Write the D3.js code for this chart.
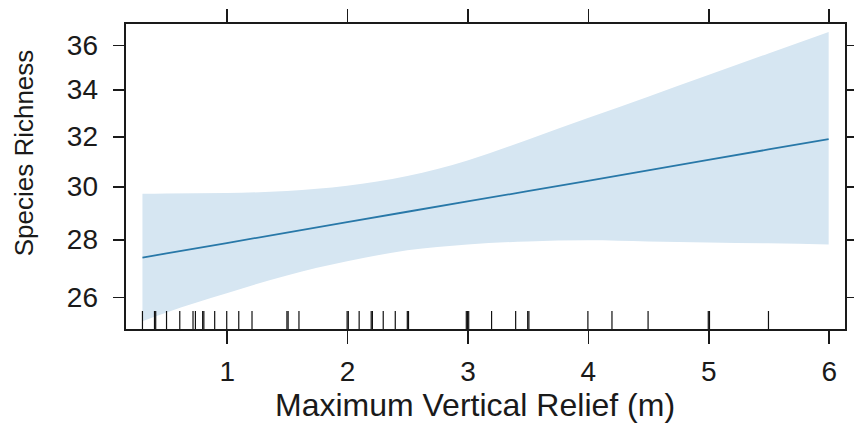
<!DOCTYPE html>
<meta charset="utf-8">
<style>
body { margin: 0; background: #fff; }
text { font-family: "Liberation Sans", Arial, sans-serif; fill: #1a1a1a; }
.axis path { display: none; }
.axis line { stroke: #1a1a1a; stroke-width: 1.5; shape-rendering: crispEdges; }
</style>
<body>
<script src="https://cdn.jsdelivr.net/npm/d3@7"></script>
<script>

// effect of relief on richness
var relief = [0.3, 0.5, 1.0, 1.5, 2.0, 2.5, 3.0, 3.5, 4.0, 4.5, 5.0, 5.5, 6.0];
var fit    = [27.36, 27.51, 27.88, 28.26, 28.64, 29.03, 29.42, 29.81, 30.21, 30.62, 31.04, 31.46, 31.88];
var upper  = [29.71, 29.72, 29.74, 29.82, 30.02, 30.40, 31.02, 31.86, 32.76, 33.68, 34.63, 35.61, 36.61];
var lower  = [25.20, 25.49, 26.13, 26.74, 27.23, 27.62, 27.83, 27.94, 27.98, 27.94, 27.90, 27.87, 27.83];

// observed relief values (rug)
var rug = [0.3, 0.4, 0.41, 0.5, 0.61, 0.72, 0.74, 0.8, 0.81, 0.9, 1.0, 1.1, 1.21,
           1.5, 1.51, 1.6, 2.0, 2.01, 2.1, 2.2, 2.21, 2.3, 2.4, 2.5, 2.51,
           2.99, 3.0, 3.01, 3.2, 3.4, 3.5, 3.51, 4.0, 4.2, 4.5, 5.0, 5.01, 5.5];

var xTicks = [1, 2, 3, 4, 5, 6];
var yTicks = [26, 28, 30, 32, 34, 36];

var W = 854, H = 432;
var box = {left: 125, right: 846, top: 23, bottom: 330};

var svg = d3.select("body").append("svg")
    .attr("width", W)
    .attr("height", H);

var x = d3.scaleLinear()
    .domain([0.155, 6.144])
    .range([box.left, box.right]);

var y = d3.scaleLog()
    .domain([24.92, 37.04])
    .range([box.bottom, box.top]);

var rows = relief.map(function(r, i) {
  return {x: r, fit: fit[i], lo: lower[i], hi: upper[i]};
});

// confidence band
svg.append("path")
    .datum(rows)
    .attr("fill", "#d6e6f2")
    .attr("d", d3.area()
      .x(function(d) { return x(d.x); })
      .y0(function(d) { return y(d.lo); })
      .y1(function(d) { return y(d.hi); })
      .curve(d3.curveMonotoneX));

// fitted line
svg.append("path")
    .datum(rows)
    .attr("fill", "none")
    .attr("stroke", "#2878a8")
    .attr("stroke-width", 1.8)
    .attr("d", d3.line()
      .x(function(d) { return x(d.x); })
      .y(function(d) { return y(d.fit); }));

// rug
svg.selectAll(".rug")
    .data(rug)
  .enter().append("line")
    .attr("class", "rug")
    .attr("x1", function(d) { return x(d); })
    .attr("x2", function(d) { return x(d); })
    .attr("y1", box.bottom - 19)
    .attr("y2", box.bottom)
    .attr("stroke", "#111")
    .attr("stroke-width", 1.2);

// axes, lattice style: ticks on all four sides
var fmt = d3.format("d");

svg.append("g")
    .attr("class", "axis")
    .attr("transform", "translate(" + box.left + ",0)")
    .call(d3.axisLeft(y).tickValues(yTicks).tickFormat(fmt).tickSize(12).tickPadding(15))
    .selectAll("text")
      .style("font-size", "28px")
      .style("fill", "#1a1a1a");

svg.append("g")
    .attr("class", "axis")
    .attr("transform", "translate(" + box.right + ",0)")
    .call(d3.axisRight(y).tickValues(yTicks).tickFormat("").tickSize(12));

svg.append("g")
    .attr("class", "axis")
    .attr("transform", "translate(0," + box.bottom + ")")
    .call(d3.axisBottom(x).tickValues(xTicks).tickFormat(fmt).tickSize(14).tickPadding(17))
    .selectAll("text")
      .style("font-size", "28px")
      .style("fill", "#1a1a1a");

svg.append("g")
    .attr("class", "axis")
    .attr("transform", "translate(0," + box.top + ")")
    .call(d3.axisTop(x).tickValues(xTicks).tickFormat("").tickSize(14));

// panel border
svg.append("rect")
    .attr("x", box.left)
    .attr("y", box.top)
    .attr("width", box.right - box.left)
    .attr("height", box.bottom - box.top)
    .attr("fill", "none")
    .attr("stroke", "#1a1a1a")
    .attr("stroke-width", 1.5)
    .style("shape-rendering", "crispEdges");

// titles
svg.append("text")
    .attr("x", 475)
    .attr("y", 416)
    .attr("text-anchor", "middle")
    .style("font-size", "32px")
    .text("Maximum Vertical Relief (m)");

svg.append("text")
    .attr("transform", "translate(33," + 153 + ") rotate(-90)")
    .attr("text-anchor", "middle")
    .style("font-size", "26px")
    .text("Species Richness");

</script>
</body>
